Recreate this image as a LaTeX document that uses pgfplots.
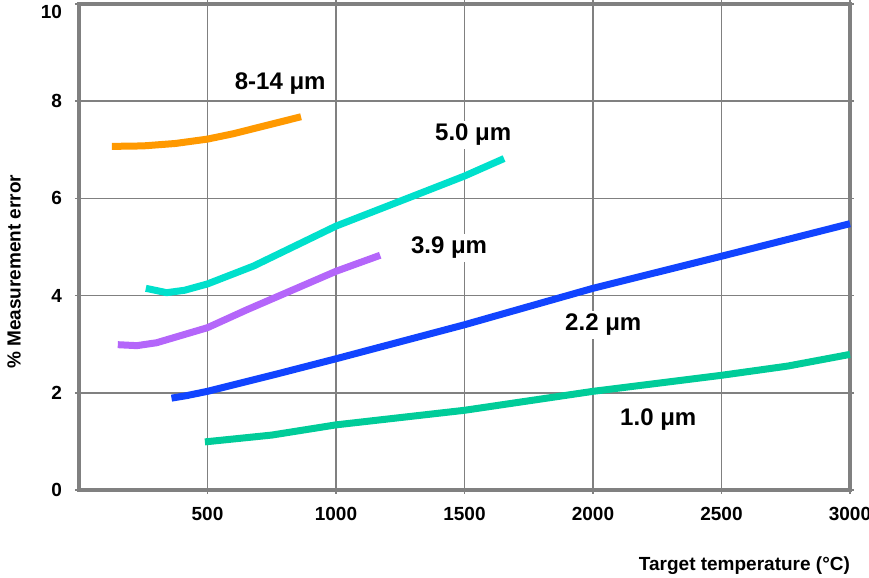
\documentclass[border=0pt]{standalone}
\usepackage{fontspec}
\setmainfont{Liberation Sans}
\usepackage{pgfplots}
\pgfplotsset{compat=1.18}

\definecolor{c814}{RGB}{255,153,0}
\definecolor{c50}{RGB}{0,224,204}
\definecolor{c39}{RGB}{180,102,250}
\definecolor{c22}{RGB}{17,68,255}
\definecolor{c10}{RGB}{0,204,153}
\definecolor{gridgray}{RGB}{128,128,128}

\tikzset{
    curve/.style={line width=3.5pt, line join=round},
    curve label/.style={font=\fontsize{12}{14}\selectfont\bfseries, fill=white, inner sep=1.5pt},
}

\begin{document}
\begin{tikzpicture}
\begin{axis}[
    at={(0,0)}, anchor=south west,
    scale only axis,
    width=385.5pt, height=243pt,
    xmin=0, xmax=3000,
    ymin=0, ymax=10,
    xtick={500,1000,1500,2000,2500,3000},
    ytick={0,2,4,6,8},
    extra y ticks={10},
    extra y tick style={yticklabel style={yshift=-4pt}},
    grid=major,
    major grid style={gridgray, line width=0.8pt},
    axis line style={gridgray, line width=2pt},
    tick style={gridgray, line width=0.8pt},
    tick align=outside,
    major tick length=2pt,
    /pgf/number format/assume math mode=true,
    /pgf/number format/1000 sep={},
    tick label style={font=\fontsize{9.5}{11}\selectfont\bfseries},
    xticklabel style={yshift=-3pt},
    yticklabel style={xshift=-3pt},
    xlabel={Target temperature (°C)},
    ylabel={\% Measurement error},
    label style={font=\fontsize{9.5}{11}\selectfont\bfseries},
    xlabel style={at={(axis description cs:1,0)}, anchor=east, xshift=3.5pt, yshift=-38pt},
    ylabel style={at={(axis description cs:-0.0843,0.449)}, anchor=center},
    clip=false,
]

% 8-14 um
\addplot[curve, c814] coordinates {
    (128,7.07) (250,7.08) (375,7.13) (500,7.22) (600,7.33) (864,7.68)
};
% 5.0 um
\addplot[curve, c50] coordinates {
    (260,4.15) (341,4.06) (411,4.11) (500,4.24) (680,4.61) (1000,5.43)
    (1316,6.08) (1500,6.46) (1654,6.82)
};
% 3.9 um
\addplot[curve, c39] coordinates {
    (151,2.99) (225,2.97) (302,3.03) (500,3.34) (654,3.71) (1000,4.50) (1172,4.83)
};
% 2.2 um
\addplot[curve, c22] coordinates {
    (360,1.89) (417,1.94) (500,2.03) (765,2.38) (1000,2.70) (1500,3.40)
    (2000,4.15) (2500,4.81) (3000,5.48)
};
% 1.0 um
\addplot[curve, c10] coordinates {
    (490,0.99) (750,1.13) (1000,1.34) (1500,1.64) (1872,1.93) (2000,2.03)
    (2500,2.36) (2758,2.55) (3000,2.79)
};

\node[curve label] at (axis cs:783,8.37) {8-14 μm};
\node[curve label] at (axis cs:1534,7.31) {5.0 μm};
\node[curve label] at (axis cs:1440,4.98) {3.9 μm};
\node[curve label] at (axis cs:2040,3.40) {2.2 μm};
\node[curve label] at (axis cs:2254,1.44) {1.0 μm};

\end{axis}
\pgfresetboundingbox
\path[use as bounding box] (-39.5pt,-44pt) rectangle (395pt,245pt);
\end{tikzpicture}
\end{document}
